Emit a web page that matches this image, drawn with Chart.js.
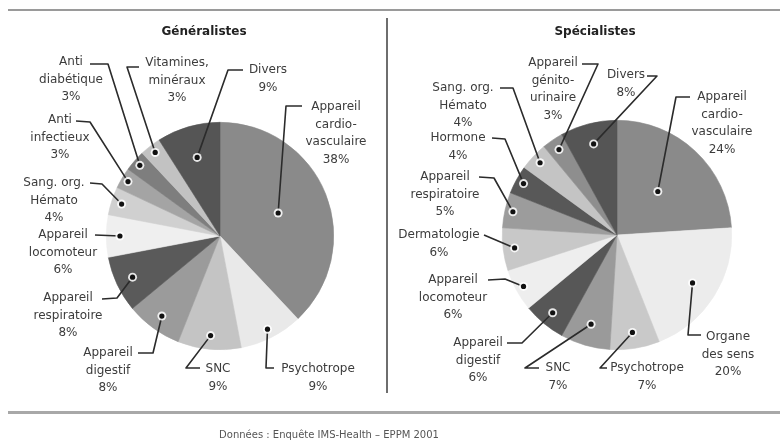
<!DOCTYPE html>
<html lang="fr">
<head>
<meta charset="UTF-8">
<title>Répartition des prescriptions</title>
<script src="https://cdn.jsdelivr.net/npm/chart.js"></script>
<style>
    body {
        margin: 0;
        width: 780px;
        height: 443px;
        background: #fff;
        font-family: "DejaVu Sans", sans-serif;
        position: relative;
        overflow: hidden;
    }
    .pie-box {
        position: absolute;
        left: 0;
        top: 0;
        width: 780px;
        height: 443px;
    }
    .rule { position: absolute; background: #9a9a9a; }
    #rule-top { left: 8px; top: 9px; width: 772px; height: 2px; }
    #rule-mid { left: 386px; top: 18px; width: 2px; height: 375px; background: #6e6e6e; }
    #rule-bottom { left: 8px; top: 411px; width: 772px; height: 3px; background: #a8a8a8; }
    #source {
        position: absolute;
        left: 0;
        width: 658px;
        top: 429px;
        text-align: center;
        font-size: 10px;
        color: #555;
    }
</style>
</head>
<body>
<div class="rule" id="rule-top"></div>
<div class="rule" id="rule-mid"></div>
<div class="rule" id="rule-bottom"></div>

<div class="pie-box"><canvas id="genChart"></canvas></div>
<div class="pie-box"><canvas id="speChart"></canvas></div>

<div id="source">Données : Enquête IMS-Health – EPPM 2001</div>

<script>
// Généralistes
const genCategories = [
    ['Appareil', 'cardio-', 'vasculaire'], ['Psychotrope'], ['SNC'],
    ['Appareil', 'digestif'], ['Appareil', 'respiratoire'], ['Appareil', 'locomoteur'],
    ['Sang. org.', 'Hémato'], ['Anti', 'infectieux'], ['Anti', 'diabétique'],
    ['Vitamines,', 'minéraux'], ['Divers']
];
const genValues = [38, 9, 9, 8, 8, 6, 4, 3, 3, 3, 9];

// Spécialistes
const speCategories = [
    ['Appareil', 'cardio-', 'vasculaire'], ['Organe', 'des sens'], ['Psychotrope'], ['SNC'],
    ['Appareil', 'digestif'], ['Appareil', 'locomoteur'], ['Dermatologie'],
    ['Appareil', 'respiratoire'], ['Hormone'], ['Sang. org.', 'Hémato'],
    ['Appareil', 'génito-', 'urinaire'], ['Divers']
];
const speValues = [24, 20, 7, 7, 6, 6, 6, 5, 4, 4, 3, 8];

const genColors = ['#8a8a8a', '#e9e9e9', '#c4c4c4', '#9b9b9b', '#5a5a5a', '#efefef',
                   '#d0d0d0', '#a4a4a4', '#7e7e7e', '#c2c2c2', '#555555'];
const speColors = ['#8a8a8a', '#ececec', '#c9c9c9', '#9a9a9a', '#575757', '#eeeeee',
                   '#c8c8c8', '#9c9c9c', '#585858', '#c4c4c4', '#8e8e8e', '#555555'];

// callout placement: text centre, first line y, leader bend points, dot distance (share of radius)
const genCallouts = [
    { tx: 336, ty: 107, path: [[286, 106], [302, 106]], f: 0.55 },
    { tx: 318, ty: 369, path: [[266, 368], [274, 368]], f: 0.92 },
    { tx: 218, ty: 369, path: [[186, 368], [200, 368]], f: 0.88 },
    { tx: 108, ty: 353, path: [[153, 353], [138, 353]], f: 0.87 },
    { tx: 68,  ty: 298, path: [[117, 298], [102, 299]], f: 0.85 },
    { tx: 63,  ty: 235, path: [[95, 235]], f: 0.88 },
    { tx: 54,  ty: 183, path: [[102, 184], [90, 183]], f: 0.91 },
    { tx: 60,  ty: 120, path: [[90, 122], [76, 121]], f: 0.94 },
    { tx: 71,  ty: 62,  path: [[108, 64], [90, 64]], f: 0.94 },
    { tx: 177, ty: 63,  path: [[127, 67], [139, 67]], f: 0.93 },
    { tx: 268, ty: 70,  path: [[228, 70], [243, 70]], f: 0.72 }
];
const speCallouts = [
    { tx: 722, ty: 97,  path: [[676, 97], [690, 97]], f: 0.52 },
    { tx: 728, ty: 337, path: [[688, 335], [701, 335]], f: 0.78 },
    { tx: 647, ty: 368, path: [[600, 368], [607, 368]], f: 0.86 },
    { tx: 558, ty: 368, path: [[525, 368], [539, 368]], f: 0.81 },
    { tx: 478, ty: 343, path: [[522, 343], [507, 343]], f: 0.88 },
    { tx: 453, ty: 280, path: [[505, 279], [488, 280]], f: 0.93 },
    { tx: 439, ty: 235, path: [[484, 235]], f: 0.90 },
    { tx: 445, ty: 177, path: [[494, 178], [479, 177]], f: 0.93 },
    { tx: 458, ty: 138, path: [[505, 139], [492, 138]], f: 0.93 },
    { tx: 463, ty: 88,  path: [[513, 88], [500, 88]], f: 0.92 },
    { tx: 553, ty: 63,  path: [[598, 64], [582, 64]], f: 0.90 },
    { tx: 626, ty: 75,  path: [[657, 76], [647, 76]], f: 0.82 }
];

const LINE_H = 17.5;

// draws the title, leader lines, dots and the multi-line labels
const calloutPlugin = {
    id: 'callouts',
    afterDatasetsDraw(chart, args, opts) {
        const ctx = chart.ctx;
        const arcs = chart.getDatasetMeta(0).data;
        const values = chart.data.datasets[0].data;
        const labels = chart.data.labels;

        ctx.save();
        ctx.font = 'bold 12px "DejaVu Sans"';
        ctx.fillStyle = '#222';
        ctx.textAlign = 'center';
        ctx.textBaseline = 'middle';
        ctx.fillText(opts.title, opts.titleX, 32);

        const dots = arcs.map((arc, i) => {
            const p = arc.getProps(['x', 'y', 'startAngle', 'endAngle', 'outerRadius'], true);
            const mid = (p.startAngle + p.endAngle) / 2;
            const r = p.outerRadius * opts.callouts[i].f;
            return [p.x + Math.cos(mid) * r, p.y + Math.sin(mid) * r];
        });

        ctx.strokeStyle = '#2b2b2b';
        ctx.lineWidth = 1.6;
        ctx.lineJoin = 'round';
        dots.forEach((d, i) => {
            ctx.beginPath();
            ctx.moveTo(d[0], d[1]);
            opts.callouts[i].path.forEach(pt => ctx.lineTo(pt[0], pt[1]));
            ctx.stroke();
        });

        dots.forEach(d => {
            ctx.beginPath();
            ctx.arc(d[0], d[1], 4.5, 0, Math.PI * 2);
            ctx.fillStyle = 'rgba(255,255,255,0.85)';
            ctx.fill();
            ctx.beginPath();
            ctx.arc(d[0], d[1], 2.6, 0, Math.PI * 2);
            ctx.fillStyle = '#111';
            ctx.fill();
        });

        ctx.font = '12px "DejaVu Sans"';
        ctx.fillStyle = '#3c3c3c';
        labels.forEach((lines, i) => {
            const c = opts.callouts[i];
            const all = lines.concat([values[i] + '%']);
            all.forEach((t, k) => ctx.fillText(t, c.tx, c.ty + k * LINE_H));
        });
        ctx.restore();
    }
};

function makePie(canvasId, categories, values, colors, pad, title, titleX, callouts) {
    return new Chart(document.getElementById(canvasId), {
        type: 'pie',
        data: {
            labels: categories,
            datasets: [{
                data: values,
                backgroundColor: colors,
                borderColor: colors,
                borderWidth: 0.6
            }]
        },
        options: {
            responsive: true,
            maintainAspectRatio: false,
            animation: false,
            events: [],
            layout: { padding: pad },
            plugins: {
                legend: { display: false },
                tooltip: { enabled: false },
                callouts: { title: title, titleX: titleX, callouts: callouts }
            }
        },
        plugins: [calloutPlugin]
    });
}

makePie('genChart', genCategories, genValues, genColors,
    { left: 106, right: 446, top: 122, bottom: 93 }, 'Généralistes', 204, genCallouts);
makePie('speChart', speCategories, speValues, speColors,
    { left: 502, right: 48, top: 120, bottom: 93 }, 'Spécialistes', 595, speCallouts);
</script>
</body>
</html>
